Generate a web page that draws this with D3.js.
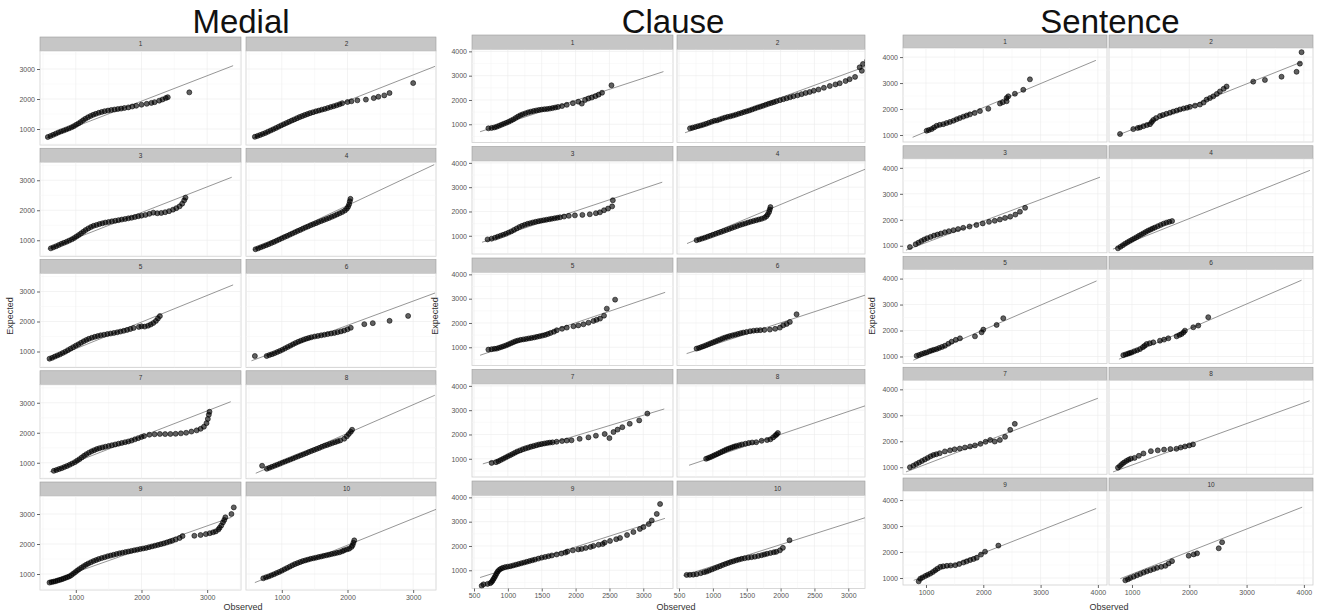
<!DOCTYPE html>
<meta charset="utf-8">
<style>

body { margin: 0; background: #fff; }
svg { display: block; font-family: "Liberation Sans", Arial, sans-serif; }

.strip { fill: #c6c6c6; stroke: #9c9c9c; stroke-width: 0.6px; }
.panel { fill: #fff; stroke: #cfcfcf; stroke-width: 0.8px; }
.grid-major { stroke: #ebebeb; stroke-width: 0.6px; }
.grid-minor { stroke: #f5f5f5; stroke-width: 0.5px; }
.qqline { stroke: #8a8a8a; stroke-width: 0.9px; }
.pt { fill: #000; fill-opacity: 0.62; stroke: #000; stroke-opacity: 0.7; stroke-width: 0.8px; }
.axis path { display: none; }
.axis line { stroke: #666; }
.axis text { font-size: 7px; fill: #555; }
.striptext { font-size: 6.5px; fill: #333; }
.title { font-size: 33px; fill: #111; }
.axtitle { font-size: 9px; fill: #333; }

</style>
<svg width="1319" height="613"></svg>
<script src="https://cdn.jsdelivr.net/npm/d3@7"></script>
<script>

var facetLabels = ["1", "2", "3", "4", "5", "6", "7", "8", "9", "10"];

var medialXTicks = [1000, 2000, 3000],
    medialYTicks = [1000, 2000, 3000],
    clauseXTicks = [500, 1000, 1500, 2000, 2500, 3000],
    clauseYTicks = [1000, 2000, 3000, 4000],
    sentenceXTicks = [1000, 2000, 3000, 4000],
    sentenceYTicks = [1000, 2000, 3000, 4000];

// reference lines per facet: [observed1, expected1, observed2, expected2]
var medialLines = [
  [550, 700, 3395, 3110], [564, 700, 3333, 3089],
  [574, 703, 3374, 3100], [560, 675, 3320, 3520],
  [574, 714, 3395, 3220], [538, 690, 3333, 2950],
  [604, 695, 3359, 3034], [604, 650, 3330, 3250],
  [600, 750, 3370, 2890], [590, 714, 3359, 3165]
];
var clauseLines = [
  [589, 693, 3298, 3167], [589, 651, 3270, 3390],
  [618, 733, 3280, 3205], [618, 680, 3250, 3740],
  [589, 671, 3323, 3260], [612, 739, 3270, 3165],
  [630, 790, 3310, 3050], [648, 733, 3250, 3180],
  [589, 701, 3320, 3136], [564, 783, 3249, 3163]
];
var sentenceLines = [
  [767, 912, 3965, 3874], [761, 1000, 3959, 3811],
  [651, 830, 4037, 3640], [668, 870, 4106, 3903],
  [779, 858, 3977, 3909], [773, 896, 3959, 3937],
  [651, 820, 4000, 3656], [670, 820, 4100, 3560],
  [786, 909, 3970, 3675], [796, 974, 3970, 3727]
];

// points per facet: [observed, expected]
var medialPoints = [
  [[574,733],[615,768],[655,805],[695,845],[735,885],[775,920],[815,950],[855,985],[895,1020],[935,1055],[970,1095],[1005,1140],[1040,1185],[1075,1235],[1110,1290],[1145,1340],[1185,1390],[1225,1435],[1265,1475],[1305,1505],[1350,1540],[1395,1570],[1440,1595],[1490,1615],[1540,1635],[1590,1650],[1640,1665],[1690,1680],[1740,1700],[1800,1720],[1860,1750],[1920,1775],[2000,1810],[2080,1840],[2150,1870],[2200,1895],[2270,1945],[2320,1985],[2370,2030],[2400,2060],[2728,2222]],
  [[590,740],[630,770],[670,800],[710,835],[750,870],[790,910],[830,950],[870,990],[910,1030],[950,1075],[990,1120],[1030,1160],[1070,1200],[1110,1240],[1150,1280],[1190,1320],[1230,1360],[1270,1400],[1310,1435],[1350,1470],[1390,1500],[1430,1530],[1475,1560],[1520,1590],[1565,1615],[1610,1645],[1655,1670],[1700,1700],[1745,1730],[1790,1760],[1835,1790],[1880,1825],[1920,1860],[2000,1900],[2060,1925],[2150,1955],[2280,1980],[2400,2030],[2470,2075],[2560,2120],[2640,2200],[3000,2530]],
  [[620,730],[660,765],[700,800],[740,840],[780,880],[820,915],[860,950],[900,990],[940,1030],[975,1075],[1010,1125],[1045,1175],[1080,1230],[1115,1285],[1150,1340],[1190,1395],[1230,1440],[1270,1480],[1315,1510],[1360,1540],[1405,1565],[1450,1590],[1500,1610],[1550,1630],[1600,1650],[1650,1670],[1700,1690],[1750,1710],[1800,1730],[1850,1750],[1900,1775],[1950,1800],[2000,1820],[2060,1845],[2120,1880],[2180,1920],[2240,1900],[2300,1910],[2360,1935],[2420,1970],[2480,2020],[2530,2070],[2580,2130],[2620,2220],[2650,2330],[2670,2420]],
  [[600,700],[640,730],[680,765],[720,800],[760,835],[800,870],[840,905],[880,945],[920,985],[960,1025],[1000,1065],[1040,1105],[1080,1145],[1120,1185],[1160,1225],[1200,1265],[1240,1305],[1280,1345],[1320,1385],[1360,1425],[1400,1460],[1440,1500],[1480,1535],[1520,1570],[1560,1605],[1600,1640],[1640,1675],[1680,1710],[1720,1745],[1760,1780],[1800,1820],[1840,1860],[1880,1900],[1920,1940],[1960,1990],[1990,2050],[2010,2120],[2025,2200],[2035,2300],[2045,2380]],
  [[600,760],[640,790],[680,830],[720,870],[760,905],[800,950],[840,995],[880,1045],[920,1095],[960,1145],[1000,1195],[1040,1240],[1080,1290],[1120,1340],[1160,1385],[1200,1425],[1245,1460],[1290,1490],[1335,1515],[1380,1540],[1430,1560],[1480,1580],[1530,1600],[1580,1620],[1630,1640],[1680,1665],[1730,1690],[1780,1720],[1830,1750],[1880,1785],[1960,1820],[2000,1840],[2050,1830],[2100,1860],[2140,1900],[2180,1950],[2220,2020],[2250,2100],[2280,2180]],
  [[590,850],[770,850],[810,880],[850,910],[890,945],[930,980],[970,1020],[1010,1060],[1050,1105],[1090,1150],[1130,1195],[1170,1240],[1210,1285],[1250,1325],[1290,1360],[1330,1395],[1370,1425],[1410,1450],[1450,1475],[1500,1500],[1550,1520],[1600,1540],[1650,1560],[1700,1580],[1750,1600],[1800,1620],[1850,1645],[1900,1670],[1950,1700],[2000,1740],[2050,1790],[2256,1912],[2385,1945],[2641,2022],[2923,2187]],
  [[665,730],[705,760],[745,790],[785,820],[825,855],[865,890],[905,930],[945,975],[985,1020],[1020,1070],[1055,1120],[1090,1175],[1125,1230],[1160,1285],[1200,1335],[1240,1380],[1280,1420],[1320,1455],[1360,1485],[1405,1510],[1450,1535],[1500,1560],[1550,1585],[1600,1610],[1650,1635],[1700,1660],[1750,1685],[1800,1710],[1850,1740],[1900,1780],[1950,1820],[2000,1860],[2040,1890],[2120,1935],[2200,1950],[2280,1960],[2360,1955],[2440,1960],[2520,1965],[2600,1980],[2680,2000],[2760,2040],[2840,2080],[2900,2130],[2950,2200],[2990,2320],[3010,2460],[3025,2600],[3035,2700]],
  [[700,900],[772,800],[810,830],[850,865],[890,900],[930,935],[970,970],[1010,1005],[1050,1040],[1090,1075],[1130,1110],[1170,1145],[1210,1180],[1250,1215],[1290,1250],[1330,1285],[1370,1320],[1410,1355],[1450,1390],[1490,1425],[1530,1460],[1570,1495],[1610,1530],[1650,1565],[1690,1595],[1730,1625],[1770,1655],[1810,1685],[1850,1715],[1890,1745],[1950,1800],[1990,1880],[2020,1960],[2050,2030],[2070,2100]],
  [[600,714],[630,730],[660,745],[690,760],[720,780],[750,800],[780,820],[810,845],[840,870],[870,895],[900,920],[930,960],[960,1010],[990,1060],[1020,1110],[1050,1160],[1085,1210],[1120,1260],[1155,1305],[1190,1350],[1230,1390],[1270,1430],[1310,1465],[1350,1500],[1395,1530],[1440,1560],[1485,1590],[1530,1615],[1575,1640],[1620,1665],[1665,1690],[1710,1710],[1755,1730],[1800,1750],[1845,1770],[1890,1790],[1935,1810],[1980,1830],[2025,1850],[2070,1870],[2115,1895],[2160,1920],[2205,1945],[2250,1970],[2295,1995],[2340,2020],[2385,2050],[2430,2080],[2470,2110],[2520,2150],[2580,2200],[2625,2264],[2805,2275],[2900,2300],[2980,2330],[3040,2360],[3090,2390],[3130,2420],[3170,2480],[3190,2540],[3215,2620],[3240,2720],[3260,2800],[3277,2890],[3369,3000],[3405,3220]],
  [[718,857],[760,890],[800,920],[840,955],[880,990],[920,1030],[960,1070],[1000,1110],[1040,1155],[1080,1200],[1120,1245],[1160,1290],[1200,1330],[1240,1365],[1280,1400],[1320,1430],[1360,1455],[1400,1480],[1440,1505],[1480,1525],[1520,1545],[1560,1565],[1600,1585],[1640,1605],[1680,1625],[1720,1645],[1760,1665],[1800,1685],[1840,1705],[1880,1725],[1920,1760],[1950,1790],[1990,1820],[2026,1846],[2060,1900],[2077,1956],[2090,2040],[2103,2121]]
];

var clausePoints = [
  [[712,833],[760,850],[800,870],[835,900],[870,940],[905,980],[940,1020],[975,1060],[1010,1100],[1045,1150],[1080,1200],[1115,1260],[1150,1320],[1185,1370],[1220,1410],[1260,1450],[1300,1490],[1340,1520],[1380,1545],[1420,1570],[1460,1590],[1500,1605],[1540,1620],[1580,1630],[1620,1645],[1660,1665],[1700,1690],[1740,1715],[1800,1750],[1870,1800],[1960,1870],[2040,1930],[2092,1850],[2140,2000],[2190,2060],[2240,2100],[2293,2158],[2340,2220],[2391,2297],[2530,2604]],
  [[662,833],[700,860],[740,890],[780,920],[820,950],[860,985],[900,1020],[940,1060],[980,1100],[1020,1140],[1060,1160],[1100,1200],[1140,1240],[1180,1275],[1220,1305],[1260,1330],[1300,1360],[1340,1395],[1380,1430],[1420,1465],[1460,1500],[1500,1535],[1540,1570],[1580,1610],[1620,1650],[1660,1690],[1700,1725],[1740,1760],[1780,1800],[1820,1840],[1860,1875],[1900,1910],[1940,1950],[1990,1990],[2040,2030],[2090,2070],[2140,2110],[2190,2150],[2250,2190],[2310,2240],[2370,2290],[2430,2330],[2490,2380],[2560,2430],[2640,2500],[2727,2576],[2810,2640],[2874,2688],[2960,2780],[3020,2855],[3100,2950],[3168,3343],[3200,3200],[3217,3480],[3280,3617]],
  [[700,850],[760,880],[810,920],[850,960],[890,1000],[930,1040],[970,1080],[1010,1130],[1050,1180],[1090,1240],[1130,1300],[1170,1360],[1210,1410],[1250,1450],[1290,1490],[1330,1520],[1370,1550],[1410,1575],[1450,1600],[1490,1620],[1530,1640],[1570,1660],[1610,1680],[1650,1700],[1690,1720],[1730,1740],[1770,1760],[1830,1790],[1900,1820],[1990,1840],[2100,1860],[2210,1885],[2300,1930],[2360,1965],[2420,2050],[2480,2120],[2540,2210],[2550,2460]],
  [[760,820],[800,850],[840,885],[880,920],[920,960],[960,1000],[1000,1040],[1040,1080],[1080,1120],[1120,1160],[1160,1200],[1200,1240],[1240,1280],[1280,1320],[1320,1360],[1360,1400],[1400,1440],[1440,1475],[1480,1510],[1520,1545],[1560,1580],[1600,1610],[1640,1640],[1680,1670],[1720,1700],[1760,1740],[1790,1800],[1810,1880],[1830,1980],[1840,2080],[1850,2180]],
  [[712,904],[760,920],[800,935],[835,945],[870,980],[905,1010],[940,1045],[975,1080],[1010,1120],[1045,1165],[1080,1210],[1115,1250],[1150,1280],[1190,1305],[1230,1325],[1270,1345],[1310,1365],[1350,1385],[1390,1405],[1430,1430],[1470,1455],[1510,1480],[1550,1510],[1590,1545],[1630,1590],[1680,1640],[1722,1700],[1800,1760],[1870,1809],[1968,1864],[2040,1900],[2116,1946],[2190,2010],[2264,2083],[2310,2130],[2362,2180],[2420,2300],[2461,2590],[2584,2960]],
  [[759,945],[795,975],[830,1010],[865,1045],[900,1085],[935,1125],[970,1165],[1005,1205],[1040,1245],[1075,1285],[1110,1325],[1145,1365],[1180,1400],[1215,1430],[1250,1460],[1290,1490],[1330,1520],[1370,1550],[1410,1580],[1450,1605],[1497,1631],[1550,1660],[1600,1680],[1650,1695],[1700,1705],[1760,1715],[1842,1727],[1920,1760],[1990,1809],[2039,1905],[2090,1960],[2137,2042],[2236,2358]],
  [[760,830],[825,860],[860,900],[895,950],[930,1000],[965,1050],[1000,1100],[1035,1150],[1070,1200],[1105,1250],[1140,1300],[1180,1345],[1220,1390],[1260,1430],[1300,1465],[1340,1500],[1380,1530],[1420,1560],[1460,1590],[1500,1610],[1540,1630],[1580,1650],[1620,1665],[1660,1675],[1720,1700],[1800,1730],[1870,1750],[1940,1760],[2060,1820],[2190,1880],[2300,1950],[2430,2020],[2500,1850],[2560,2100],[2620,2200],[2690,2300],[2800,2440],[2940,2580],[3060,2860]],
  [[900,1000],[930,1030],[960,1065],[990,1100],[1020,1140],[1050,1180],[1080,1220],[1110,1260],[1140,1300],[1170,1340],[1200,1380],[1230,1415],[1260,1445],[1290,1475],[1320,1505],[1350,1530],[1390,1560],[1430,1590],[1480,1620],[1530,1650],[1580,1670],[1640,1680],[1720,1740],[1800,1770],[1850,1800],[1890,1880],[1920,1950],[1940,2000],[1960,2060]],
  [[613,360],[640,420],[700,440],[740,470],[760,520],[775,580],[790,650],[805,720],[820,800],[835,880],[850,950],[870,1010],[895,1060],[925,1100],[960,1130],[1000,1150],[1040,1170],[1080,1200],[1120,1230],[1160,1260],[1200,1290],[1240,1320],[1280,1350],[1320,1380],[1360,1410],[1400,1440],[1450,1480],[1500,1520],[1550,1550],[1600,1580],[1650,1610],[1720,1650],[1790,1690],[1850,1730],[1880,1770],[1960,1820],[2040,1860],[2090,1880],[2150,1920],[2220,1960],[2263,2004],[2340,2050],[2400,2080],[2430,2140],[2509,2208],[2600,2280],[2657,2330],[2760,2450],[2854,2574],[2950,2700],[3002,2778],[3080,2900],[3125,3049],[3199,3320],[3248,3726]],
  [[613,810],[660,812],[710,820],[760,840],[820,880],[870,920],[907,946],[945,990],[985,1035],[1025,1080],[1065,1125],[1105,1170],[1145,1215],[1185,1260],[1225,1300],[1265,1340],[1305,1375],[1345,1410],[1385,1440],[1425,1470],[1470,1495],[1520,1520],[1570,1540],[1620,1560],[1670,1590],[1720,1620],[1760,1650],[1800,1680],[1850,1710],[1900,1740],[1936,1760],[1990,1820],[2034,1923],[2132,2235]]
];

var sentencePoints = [
  [[1012,1164],[1050,1190],[1099,1227],[1140,1290],[1186,1353],[1240,1390],[1302,1416],[1360,1460],[1419,1504],[1480,1550],[1535,1605],[1590,1650],[1651,1706],[1710,1750],[1767,1794],[1850,1850],[1942,1920],[2087,2009],[2291,2211],[2340,2260],[2407,2299],[2407,2425],[2436,2488],[2552,2589],[2698,2740],[2814,3144]],
  [[791,1038],[1023,1227],[1100,1270],[1140,1290],[1200,1340],[1260,1380],[1314,1416],[1345,1500],[1372,1580],[1420,1650],[1488,1731],[1540,1770],[1600,1815],[1663,1857],[1720,1900],[1780,1940],[1837,1983],[1900,2020],[1960,2050],[2012,2084],[2100,2130],[2186,2172],[2250,2250],[2302,2362],[2360,2420],[2419,2488],[2480,2580],[2535,2677],[2600,2780],[2651,2866],[3116,3055],[3320,3118],[3610,3244],[3872,3433],[3930,3748],[3959,4189]],
  [[720,950],[820,1060],[870,1120],[920,1180],[970,1240],[1020,1290],[1080,1340],[1140,1390],[1200,1430],[1260,1470],[1330,1520],[1400,1560],[1480,1600],[1560,1640],[1650,1690],[1760,1740],[1880,1800],[1990,1860],[2100,1920],[2200,1960],[2290,2010],[2380,2070],[2470,2120],[2560,2200],[2640,2310],[2730,2460]],
  [[755,900],[800,960],[840,1020],[880,1080],[920,1130],[960,1180],[1000,1230],[1040,1280],[1080,1330],[1120,1380],[1160,1430],[1200,1480],[1240,1530],[1280,1580],[1320,1620],[1360,1660],[1400,1700],[1450,1750],[1500,1800],[1550,1850],[1600,1890],[1650,1920],[1700,1950]],
  [[837,1026],[880,1060],[925,1100],[970,1130],[1012,1155],[1060,1200],[1100,1230],[1140,1260],[1186,1285],[1230,1330],[1280,1370],[1331,1414],[1390,1490],[1448,1569],[1520,1640],[1593,1699],[1855,1776],[1971,1931],[2000,2035],[2233,2216],[2349,2475]],
  [[849,1052],[890,1080],[930,1110],[960,1130],[994,1155],[1040,1200],[1090,1240],[1140,1285],[1190,1360],[1220,1410],[1256,1479],[1310,1510],[1372,1544],[1488,1609],[1560,1650],[1634,1699],[1779,1776],[1830,1830],[1866,1867],[1900,1930],[1924,1996],[2070,2125],[2157,2190],[2331,2514]],
  [[720,1000],[780,1060],[830,1120],[880,1180],[930,1240],[980,1300],[1030,1360],[1080,1420],[1130,1470],[1180,1500],[1240,1540],[1330,1610],[1420,1650],[1500,1690],[1590,1720],[1680,1760],[1770,1800],[1855,1840],[1950,1900],[2040,1980],[2120,2050],[2200,1990],[2290,2050],[2380,2170],[2470,2440],[2550,2670]],
  [[755,985],[790,1050],[825,1120],[860,1180],[900,1240],[940,1290],[980,1330],[1045,1360],[1120,1440],[1200,1530],[1330,1620],[1450,1650],[1560,1680],[1670,1700],[1775,1710],[1850,1760],[1925,1800],[2000,1840],[2065,1880]],
  [[873,870],[901,974],[940,1020],[988,1078],[1030,1120],[1075,1169],[1120,1230],[1162,1299],[1200,1360],[1249,1429],[1300,1450],[1365,1468],[1430,1480],[1510,1494],[1580,1540],[1654,1597],[1710,1640],[1770,1688],[1830,1730],[1886,1779],[1960,1900],[2031,2013],[2263,2247]],
  [[884,909],[930,950],[971,1000],[1030,1050],[1087,1104],[1145,1155],[1204,1208],[1260,1255],[1320,1299],[1380,1345],[1437,1390],[1510,1430],[1582,1468],[1640,1560],[1699,1649],[1990,1857],[2077,1909],[2136,1948],[2514,2143],[2573,2377]]
];

var groups = [
  {name: "Medial", points: medialPoints, lines: medialLines, xTicks: medialXTicks, yTicks: medialYTicks,
   x0: 40, colStep: 206, fullW: 201, colW: [201, 190], top: 37, pitch: 111.25, stripH: 14, panelH: 94,
   xDomain: [455, 3515], yDomain: [467, 3600], titleX: 241, ylabX: 13, xlabX: 243},
  {name: "Clause", points: clausePoints, lines: clauseLines, xTicks: clauseXTicks, yTicks: clauseYTicks,
   x0: 472, colStep: 205, fullW: 201, colW: [201, 188], top: 35, pitch: 111.5, stripH: 14.5, panelH: 93,
   xDomain: [470, 3439], yDomain: [250, 4077], titleX: 673, ylabX: 438, xlabX: 676},
  {name: "Sentence", points: sentencePoints, lines: sentenceLines, xTicks: sentenceXTicks, yTicks: sentenceYTicks,
   x0: 903, colStep: 206, fullW: 204, colW: [204, 204], top: 35, pitch: 110.75, stripH: 13, panelH: 94,
   xDomain: [599, 4159], yDomain: [730, 4350], titleX: 1110, ylabX: 875, xlabX: 1109}
];

var svg = d3.select("svg");
var clipId = 0;

function minorOf(ticks, domain) {
  var step = ticks[1] - ticks[0], out = [];
  for (var v = ticks[0] - step / 2; v < domain[1]; v += step) {
    if (v > domain[0]) out.push(v);
  }
  return out;
}

groups.forEach(function(g) {
  var x = d3.scaleLinear().domain(g.xDomain).range([0, g.fullW]),
      y = d3.scaleLinear().domain(g.yDomain).range([g.panelH, 0]);

  svg.append("text")
      .attr("class", "title")
      .attr("x", g.titleX)
      .attr("y", 33)
      .attr("text-anchor", "middle")
      .text(g.name);

  g.points.forEach(function(pts, i) {
    var row = Math.floor(i / 2), col = i % 2,
        w = g.colW[col],
        px = g.x0 + col * g.colStep,
        sy = g.top + row * g.pitch,
        py = sy + g.stripH;

    // strip
    svg.append("rect")
        .attr("class", "strip")
        .attr("x", px).attr("y", sy)
        .attr("width", w).attr("height", g.stripH);
    svg.append("text")
        .attr("class", "striptext")
        .attr("x", px + g.fullW / 2)
        .attr("y", sy + g.stripH / 2 + 2.3)
        .attr("text-anchor", "middle")
        .text(facetLabels[i]);

    var p = svg.append("g").attr("transform", "translate(" + px + "," + py + ")");
    var id = "clip" + (clipId++);
    p.append("clipPath").attr("id", id)
      .append("rect").attr("width", w).attr("height", g.panelH);

    p.append("rect").attr("class", "panel").attr("width", w).attr("height", g.panelH);

    var grid = p.append("g").attr("clip-path", "url(#" + id + ")");
    grid.selectAll(".gx").data(minorOf(g.xTicks, g.xDomain)).enter().append("line")
        .attr("class", "grid-minor")
        .attr("x1", x).attr("x2", x).attr("y1", 0).attr("y2", g.panelH);
    grid.selectAll(".gy").data(minorOf(g.yTicks, g.yDomain)).enter().append("line")
        .attr("class", "grid-minor")
        .attr("y1", y).attr("y2", y).attr("x1", 0).attr("x2", w);
    grid.selectAll(".mx").data(g.xTicks).enter().append("line")
        .attr("class", "grid-major")
        .attr("x1", x).attr("x2", x).attr("y1", 0).attr("y2", g.panelH);
    grid.selectAll(".my").data(g.yTicks).enter().append("line")
        .attr("class", "grid-major")
        .attr("y1", y).attr("y2", y).attr("x1", 0).attr("x2", w);

    var l = g.lines[i];
    grid.append("line")
        .attr("class", "qqline")
        .attr("x1", x(l[0])).attr("y1", y(l[1]))
        .attr("x2", x(l[2])).attr("y2", y(l[3]));

    grid.selectAll(".pt").data(pts).enter().append("circle")
        .attr("class", "pt")
        .attr("r", 2.5)
        .attr("cx", function(d) { return x(d[0]); })
        .attr("cy", function(d) { return y(d[1]); });

    if (col === 0) {
      p.append("g").attr("class", "axis")
          .call(d3.axisLeft(y).tickValues(g.yTicks).tickSize(3).tickPadding(2).tickFormat(d3.format("d")));
    }
    if (row === 4) {
      p.append("g").attr("class", "axis")
          .attr("transform", "translate(0," + g.panelH + ")")
          .call(d3.axisBottom(x).tickValues(g.xTicks).tickSize(3).tickPadding(2).tickFormat(d3.format("d")));
    }
  });

  svg.append("text")
      .attr("class", "axtitle")
      .attr("transform", "translate(" + g.ylabX + ",316) rotate(-90)")
      .attr("text-anchor", "middle")
      .text("Expected");
  svg.append("text")
      .attr("class", "axtitle")
      .attr("x", g.xlabX)
      .attr("y", 610)
      .attr("text-anchor", "middle")
      .text("Observed");
});

</script>
